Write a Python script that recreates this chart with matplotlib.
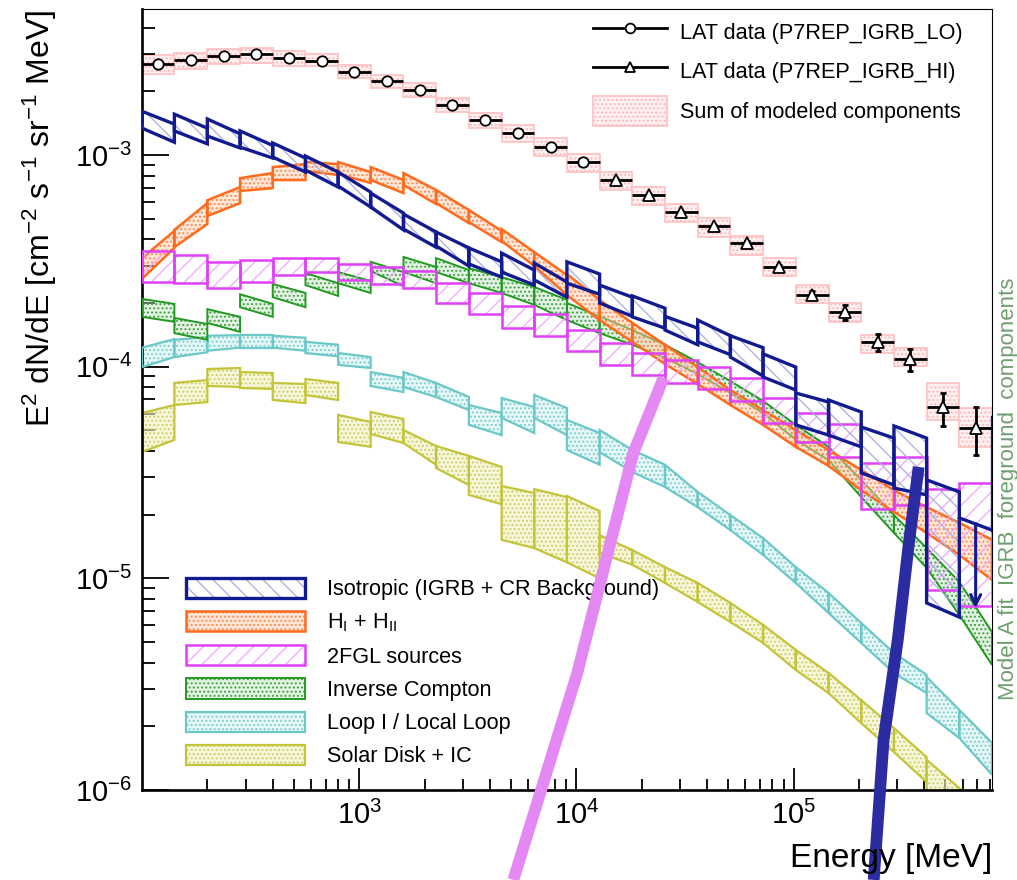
import numpy as np
import matplotlib
matplotlib.use("Agg")
import matplotlib.pyplot as plt
from matplotlib.colors import to_rgba
from matplotlib.patches import Polygon, Patch
from matplotlib.lines import Line2D
from matplotlib.ticker import NullFormatter

plt.rcParams["font.family"] = ["Liberation Sans", "DejaVu Sans"]
plt.rcParams["mathtext.fontset"] = "custom"
plt.rcParams["mathtext.rm"] = "Liberation Sans"
plt.rcParams["mathtext.it"] = "Liberation Sans:italic"
plt.rcParams["mathtext.bf"] = "Liberation Sans:bold"
plt.rcParams["hatch.linewidth"] = 0.9

# energy bin edges [MeV], 26 bins
edges = np.array([100, 141, 200, 283, 400, 566, 800, 1130, 1600, 2260, 3200,
                  4530, 6400, 9050, 12800, 18100, 25600, 36200, 51200, 72400,
                  102400, 145000, 205000, 290000, 410000, 580000, 820000], dtype=float)

# LAT measurements, E^2 dN/dE
lat_lo = [2.68e-3, 2.81e-3, 2.94e-3, 3.00e-3, 2.88e-3, 2.78e-3, 2.47e-3,
          2.24e-3, 2.03e-3, 1.72e-3, 1.46e-3, 1.27e-3, 1.09e-3, 9.24e-4]
lat_hi = [7.62e-4, 6.48e-4, 5.38e-4, 4.62e-4, 3.84e-4, 2.96e-4, 2.18e-4,
          1.81e-4, 1.31e-4, 1.09e-4, 6.45e-5, 5.13e-5]
lat_hi_dn = [1.0e-5, 9e-6, 8e-6, 7e-6, 7e-6, 7e-6, 1.0e-5, 1.4e-5,
             1.2e-5, 1.4e-5, 1.2e-5, 1.3e-5]
lat_hi_up = [1.0e-5, 9e-6, 8e-6, 7e-6, 7e-6, 7e-6, 1.0e-5, 1.4e-5,
             1.2e-5, 1.2e-5, 1.1e-5, 1.3e-5]

# sum of modeled components (box per bin)
sum_top = [2.97e-3, 3.03e-3, 3.17e-3, 3.20e-3, 3.10e-3, 3.00e-3, 2.66e-3,
           2.39e-3, 2.19e-3, 1.86e-3, 1.58e-3, 1.39e-3, 1.20e-3, 1.01e-3,
           8.31e-4, 7.06e-4, 5.87e-4, 5.04e-4, 4.14e-4, 3.26e-4, 2.43e-4,
           2.00e-4, 1.41e-4, 1.23e-4, 8.38e-5, 6.38e-5]
sum_bot = [2.41e-3, 2.55e-3, 2.69e-3, 2.72e-3, 2.63e-3, 2.63e-3, 2.31e-3,
           2.07e-3, 1.88e-3, 1.60e-3, 1.34e-3, 1.15e-3, 9.89e-4, 8.31e-4,
           6.84e-4, 5.81e-4, 4.82e-4, 4.10e-4, 3.37e-4, 2.68e-4, 2.00e-4,
           1.63e-4, 1.16e-4, 1.01e-4, 5.60e-5, 4.18e-5]

# component bands, one row per bin:
# (upper at low edge, upper at high edge, lower at low edge, lower at high edge)
iso_band = [
    (1.61e-3, 1.40e-3, 1.34e-3, 1.15e-3),
    (1.56e-3, 1.34e-3, 1.30e-3, 1.13e-3),
    (1.48e-3, 1.26e-3, 1.23e-3, 1.08e-3),
    (1.30e-3, 1.11e-3, 1.09e-3, 9.68e-4),
    (1.14e-3, 9.68e-4, 9.78e-4, 8.31e-4),
    (9.89e-4, 8.31e-4, 8.49e-4, 7.06e-4),
    (8.31e-4, 6.68e-4, 7.14e-4, 5.68e-4),
    (6.61e-4, 5.32e-4, 5.68e-4, 4.43e-4),
    (5.26e-4, 4.33e-4, 4.47e-4, 3.67e-4),
    (4.33e-4, 3.64e-4, 3.72e-4, 2.99e-4),
    (3.64e-4, 3.13e-4, 3.06e-4, 2.65e-4),
    (3.44e-4, 2.86e-4, 2.80e-4, 2.43e-4),
    (3.09e-4, 2.51e-4, 2.57e-4, 2.13e-4),
    (3.13e-4, 2.74e-4, 2.48e-4, 2.20e-4),
    (2.43e-4, 2.13e-4, 2.00e-4, 1.73e-4),
    (2.16e-4, 1.89e-4, 1.72e-4, 1.52e-4),
    (1.73e-4, 1.52e-4, 1.49e-4, 1.27e-4),
    (1.66e-4, 1.40e-4, 1.31e-4, 1.14e-4),
    (1.40e-4, 1.23e-4, 1.11e-4, 9.04e-5),
    (1.15e-4, 9.96e-5, 8.94e-5, 7.76e-5),
    (7.51e-5, 6.81e-5, 5.31e-5, 4.75e-5),
    (6.96e-5, 6.11e-5, 4.75e-5, 4.18e-5),
    (5.19e-5, 4.60e-5, 3.15e-5, 2.76e-5),
    (5.25e-5, 4.60e-5, 2.67e-5, 2.48e-5),
    (2.92e-5, 2.56e-5, 7.65e-6, 6.56e-6),
]
# last isotropic bin is an upper limit
iso_ul = (1.93e-5, 1.69e-5)
iso_ul_edge_top = 5.78e-5
iso_ul_tip = 7.24e-6

gas_band = [
    (3.26e-4, 4.38e-4, 2.60e-4, 3.64e-4),
    (4.43e-4, 5.93e-4, 3.67e-4, 4.72e-4),
    (6.12e-4, 7.06e-4, 5.15e-4, 5.93e-4),
    (7.78e-4, 8.22e-4, 6.76e-4, 6.98e-4),
    (8.77e-4, 9.06e-4, 7.62e-4, 7.62e-4),
    (9.27e-4, 9.06e-4, 8.40e-4, 8.05e-4),
    (9.27e-4, 8.31e-4, 8.13e-4, 7.38e-4),
    (8.77e-4, 7.62e-4, 7.62e-4, 6.61e-4),
    (8.22e-4, 6.84e-4, 7.22e-4, 5.87e-4),
    (6.84e-4, 5.50e-4, 5.93e-4, 4.77e-4),
    (5.50e-4, 4.38e-4, 4.82e-4, 3.88e-4),
    (4.47e-4, 3.48e-4, 3.93e-4, 2.99e-4),
    (3.48e-4, 2.71e-4, 2.99e-4, 2.18e-4),
    (2.74e-4, 2.07e-4, 2.18e-4, 1.66e-4),
    (2.07e-4, 1.61e-4, 1.66e-4, 1.31e-4),
    (1.61e-4, 1.27e-4, 1.31e-4, 1.03e-4),
    (1.27e-4, 9.96e-5, 1.03e-4, 8.28e-5),
    (9.96e-5, 7.76e-5, 8.28e-5, 6.59e-5),
    (7.76e-5, 6.24e-5, 6.59e-5, 5.31e-5),
    (6.24e-5, 5.02e-5, 5.31e-5, 4.18e-5),
    (5.02e-5, 4.04e-5, 4.18e-5, 3.40e-5),
    (4.04e-5, 3.25e-5, 3.40e-5, 2.61e-5),
    (3.25e-5, 2.61e-5, 2.61e-5, 2.06e-5),
    (2.61e-5, 2.17e-5, 2.06e-5, 1.64e-5),
    (2.17e-5, 1.83e-5, 1.64e-5, 1.29e-5),
    (1.83e-5, 1.52e-5, 1.29e-5, 9.82e-6),
]

fgl_top = [3.53e-4, 3.37e-4, 3.11e-4, 3.19e-4, 3.27e-4, 3.28e-4, 3.06e-4,
           2.95e-4, 2.84e-4, 2.49e-4, 2.22e-4, 1.94e-4, 1.77e-4, 1.49e-4,
           1.29e-4, 1.16e-4, 1.07e-4, 1.00e-4, 8.87e-5, 7.10e-5, 6.07e-5,
           5.36e-5, 3.52e-5, 3.73e-5, 2.64e-5, 2.81e-5]
fgl_bot = [2.52e-4, 2.48e-4, 2.36e-4, 2.52e-4, 2.71e-4, 2.79e-4, 2.57e-4,
           2.46e-4, 2.35e-4, 2.01e-4, 1.77e-4, 1.53e-4, 1.39e-4, 1.18e-4,
           1.02e-4, 9.14e-5, 8.40e-5, 7.85e-5, 6.90e-5, 5.41e-5, 4.43e-5,
           3.76e-5, 2.13e-5, 2.22e-5, 8.81e-6, 7.40e-6]

ic_band = [
    (2.09e-4, 1.98e-4, 1.72e-4, 1.63e-4),
    (1.70e-4, 1.59e-4, 1.44e-4, 1.34e-4),
    (1.87e-4, 1.72e-4, 1.61e-4, 1.46e-4),
    (2.20e-4, 1.98e-4, 1.91e-4, 1.72e-4),
    (2.46e-4, 2.23e-4, 2.13e-4, 1.91e-4),
    (2.77e-4, 2.48e-4, 2.43e-4, 2.16e-4),
    (2.80e-4, 2.54e-4, 2.48e-4, 2.23e-4),
    (3.13e-4, 2.80e-4, 2.83e-4, 2.40e-4),
    (3.30e-4, 2.96e-4, 2.80e-4, 2.48e-4),
    (3.26e-4, 2.86e-4, 2.80e-4, 2.48e-4),
    (2.92e-4, 2.65e-4, 2.48e-4, 2.23e-4),
    (2.65e-4, 2.38e-4, 2.23e-4, 1.96e-4),
    (2.38e-4, 2.07e-4, 1.96e-4, 1.66e-4),
    (2.00e-4, 1.73e-4, 1.66e-4, 1.44e-4),
    (1.73e-4, 1.49e-4, 1.44e-4, 1.27e-4),
    (1.49e-4, 1.27e-4, 1.27e-4, 1.10e-4),
    (1.27e-4, 1.05e-4, 1.10e-4, 9.23e-5),
    (1.05e-4, 8.55e-5, 9.23e-5, 7.51e-5),
    (8.55e-5, 6.89e-5, 7.51e-5, 6.04e-5),
    (6.89e-5, 5.31e-5, 6.04e-5, 4.51e-5),
    (5.31e-5, 4.18e-5, 4.51e-5, 3.62e-5),
    (4.18e-5, 2.92e-5, 3.62e-5, 2.42e-5),
    (2.92e-5, 1.99e-5, 2.42e-5, 1.64e-5),
    (1.99e-5, 1.39e-5, 1.64e-5, 1.12e-5),
    (1.39e-5, 9.62e-6, 1.12e-5, 6.71e-6),
    (9.62e-6, 5.58e-6, 6.71e-6, 3.90e-6),
]

loop_band = [
    (1.23e-4, 1.35e-4, 9.96e-5, 1.11e-4),
    (1.34e-4, 1.38e-4, 1.11e-4, 1.17e-4),
    (1.40e-4, 1.41e-4, 1.19e-4, 1.23e-4),
    (1.41e-4, 1.41e-4, 1.23e-4, 1.23e-4),
    (1.40e-4, 1.37e-4, 1.23e-4, 1.19e-4),
    (1.31e-4, 1.27e-4, 1.16e-4, 1.12e-4),
    (1.16e-4, 1.11e-4, 1.02e-4, 9.86e-5),
    (9.44e-5, 8.85e-5, 8.11e-5, 7.59e-5),
    (9.44e-5, 8.38e-5, 8.02e-5, 7.19e-5),
    (8.38e-5, 7.19e-5, 7.19e-5, 6.24e-5),
    (6.59e-5, 6.04e-5, 5.31e-5, 4.75e-5),
    (7.11e-5, 6.45e-5, 5.73e-5, 4.86e-5),
    (7.35e-5, 6.38e-5, 5.73e-5, 4.75e-5),
    (5.60e-5, 4.86e-5, 4.04e-5, 3.44e-5),
    (5.02e-5, 4.04e-5, 3.95e-5, 3.18e-5),
    (4.04e-5, 3.44e-5, 3.18e-5, 2.70e-5),
    (3.44e-5, 2.56e-5, 2.70e-5, 2.17e-5),
    (2.56e-5, 1.99e-5, 2.17e-5, 1.69e-5),
    (1.99e-5, 1.55e-5, 1.69e-5, 1.29e-5),
    (1.55e-5, 1.13e-5, 1.29e-5, 9.51e-6),
    (1.13e-5, 8.53e-6, 9.51e-6, 6.86e-6),
    (8.53e-6, 6.15e-6, 6.86e-6, 4.95e-6),
    (6.15e-6, 4.44e-6, 4.95e-6, 3.57e-6),
    (4.44e-6, 3.50e-6, 3.57e-6, 2.87e-6),
    (3.42e-6, 2.39e-6, 2.31e-6, 1.76e-6),
    (2.39e-6, 1.67e-6, 1.76e-6, 1.18e-6),
]

solar_band = [
    (6.04e-5, 6.59e-5, 3.95e-5, 4.51e-5),
    (8.38e-5, 8.65e-5, 6.59e-5, 6.81e-5),
    (9.75e-5, 9.86e-5, 8.11e-5, 8.02e-5),
    (9.44e-5, 9.33e-5, 7.93e-5, 7.85e-5),
    (8.38e-5, 8.28e-5, 6.96e-5, 6.73e-5),
    (8.75e-5, 8.38e-5, 7.35e-5, 6.96e-5),
    (5.92e-5, 5.48e-5, 4.41e-5, 4.18e-5),
    (6.11e-5, 5.66e-5, 4.81e-5, 4.36e-5),
    (5.02e-5, 4.22e-5, 4.36e-5, 3.44e-5),
    (4.22e-5, 3.79e-5, 3.32e-5, 2.76e-5),
    (3.79e-5, 3.36e-5, 2.48e-5, 2.24e-5),
    (2.73e-5, 2.53e-5, 1.52e-5, 1.39e-5),
    (2.64e-5, 2.42e-5, 1.39e-5, 1.19e-5),
    (2.45e-5, 2.08e-5, 1.19e-5, 1.00e-5),
    (1.60e-5, 1.36e-5, 1.32e-5, 1.16e-5),
    (1.36e-5, 1.13e-5, 1.16e-5, 9.51e-6),
    (1.13e-5, 9.51e-6, 9.51e-6, 7.73e-6),
    (9.51e-6, 7.65e-6, 7.73e-6, 6.22e-6),
    (7.65e-6, 6.03e-6, 6.22e-6, 4.95e-6),
    (6.03e-6, 4.59e-6, 4.95e-6, 3.69e-6),
    (4.59e-6, 3.57e-6, 3.69e-6, 2.87e-6),
    (3.57e-6, 2.66e-6, 2.87e-6, 2.07e-6),
    (2.66e-6, 1.96e-6, 2.07e-6, 1.51e-6),
    (1.96e-6, 1.43e-6, 1.51e-6, 1.09e-6),
    (1.39e-6, 1.02e-6, 1.00e-6, 7.62e-7),
    (1.02e-6, 7.38e-7, 7.62e-7, 5.50e-7),
]

# hand-drawn marker strokes across the plot (E [MeV], flux)
pink_stroke_e = [5.13e3, 1.01e4, 1.83e4, 2.52e4]
pink_stroke_f = [3.76e-7, 3.57e-6, 3.91e-5, 8.85e-5]
blue_stroke_e = [2.34e5, 2.60e5, 3.02e5, 3.39e5, 3.77e5]
blue_stroke_f = [3.76e-7, 1.73e-6, 5.12e-6, 1.44e-5, 3.36e-5]

legend_labels = ["Isotropic (IGRB + CR Background)",
                 r"H$_{\rm I}$ + H$_{\rm II}$",
                 "2FGL sources",
                 "Inverse Compton",
                 "Loop I / Local Loop",
                 "Solar Disk + IC"]

NAVY = "#111a8e"
ORANGE = "#ff6a1c"
MAGENTA = "#e040f8"
GREEN = "#229a22"
CYAN = "#6cc8c8"
OLIVE = "#c4c43a"
PINK = "#ffc4c4"

centers = np.sqrt(edges[:-1] * edges[1:])

fig = plt.figure(figsize=(10.17, 8.8), dpi=100)
ax = fig.add_axes([0.1396, 0.1023, 0.8358, 0.8875])
ax.set_xscale("log")
ax.set_yscale("log")
ax.set_xlim(100, 8.2e5)
ax.set_ylim(1e-6, 4.9e-3)


def draw_band(rows, color, lw, hatch, hatch_color, face, z):
    for i, (hi_l, hi_r, lo_l, lo_r) in enumerate(rows):
        e0, e1 = edges[i], edges[i + 1]
        verts = [(e0, lo_l), (e1, lo_r), (e1, hi_r), (e0, hi_l)]
        ax.add_patch(Polygon(verts, closed=True, facecolor=face,
                             edgecolor=hatch_color, hatch=hatch, lw=0, zorder=z))
        ax.add_patch(Polygon(verts, closed=True, fill=False, edgecolor=color,
                             lw=lw, zorder=z + 0.1))


def flat(top, bot):
    return [(t, t, b, b) for t, b in zip(top, bot)]


styles = {
    "sum":   dict(color=PINK, lw=1.3, hatch="....", hatch_color="#ffb4b4",
                  face=to_rgba("#ffe4e4", 0.5), z=1),
    "solar": dict(color=OLIVE, lw=1.6, hatch="....", hatch_color="#cdcd6a",
                  face=to_rgba("#f0f0c0", 0.6), z=2),
    "loop":  dict(color=CYAN, lw=1.6, hatch="....", hatch_color="#7ccccc",
                  face=to_rgba("#d6f2f2", 0.6), z=2.5),
    "ic":    dict(color=GREEN, lw=1.4, hatch="....", hatch_color="#3fa03f",
                  face=to_rgba("#bfe3bf", 0.45), z=3),
    "gas":   dict(color=ORANGE, lw=1.8, hatch="....", hatch_color="#ff8a50",
                  face=to_rgba("#ffc9a8", 0.45), z=3.5),
    "fgl":   dict(color=MAGENTA, lw=1.8, hatch="//", hatch_color="#f0a8ff",
                  face="none", z=4),
    "iso":   dict(color=NAVY, lw=2.4, hatch="\\\\", hatch_color="#a8acdc",
                  face="none", z=5),
}

draw_band(flat(sum_top, sum_bot), **styles["sum"])
draw_band(solar_band, **styles["solar"])
draw_band(loop_band, **styles["loop"])
draw_band(ic_band, **styles["ic"])
draw_band(gas_band, **styles["gas"])
draw_band(flat(fgl_top, fgl_bot), **styles["fgl"])
draw_band(iso_band, **styles["iso"])

# isotropic upper limit in the highest bin
ax.plot(edges[-2:], iso_ul, color=NAVY, lw=2.4, zorder=5.1)
ax.plot([edges[-1], edges[-1]], [iso_ul[1], iso_ul_edge_top], color=NAVY,
        lw=2.4, zorder=5.1)
ax.annotate("", xy=(centers[-1], iso_ul_tip), xytext=(centers[-1], np.mean(iso_ul)),
            arrowprops=dict(arrowstyle="->", color=NAVY, lw=2.2,
                            mutation_scale=18, shrinkA=0, shrinkB=0),
            zorder=5.2)

# LAT data points
n_lo = len(lat_lo)
xerr = np.vstack([centers - edges[:-1], edges[1:] - centers])
ax.errorbar(centers[:n_lo], lat_lo, xerr=xerr[:, :n_lo], fmt="none",
            ecolor="k", elinewidth=2, capsize=0, zorder=10)
ax.errorbar(centers[n_lo:], lat_hi, xerr=xerr[:, n_lo:], fmt="none",
            ecolor="k", elinewidth=2, capsize=0, zorder=10)
ax.errorbar(centers[n_lo:], lat_hi, yerr=[lat_hi_dn, lat_hi_up], fmt="none",
            ecolor="k", elinewidth=2, capsize=2.5, capthick=2, zorder=10)
ax.plot(centers[:n_lo], lat_lo, "o", ms=7.5, mfc="white", mec="k", mew=1.3,
        zorder=11)
ax.plot(centers[n_lo:], lat_hi, "^", ms=8, mfc="white", mec="k", mew=1.3,
        zorder=11)

# marker strokes
ax.plot(pink_stroke_e, pink_stroke_f, color="#e488f4", lw=8.5,
        solid_capstyle="butt", clip_on=False, zorder=20)
ax.plot(blue_stroke_e, blue_stroke_f, color="#2c2ca2", lw=8.5,
        solid_capstyle="butt", clip_on=False, zorder=20)

# axes styling
ax.set_xticks([1e3, 1e4, 1e5])
ax.set_yticks([1e-6, 1e-5, 1e-4, 1e-3])
ax.xaxis.set_minor_formatter(NullFormatter())
ax.yaxis.set_minor_formatter(NullFormatter())
ax.tick_params(axis="y", which="major", direction="in", length=19.5,
               width=1.3, pad=7, labelsize=21)
ax.tick_params(axis="y", which="minor", direction="in", length=9.5, width=1.3)
ax.tick_params(axis="x", which="major", direction="in", length=16,
               width=1.3, pad=8, labelsize=21)
ax.tick_params(axis="x", which="minor", direction="in", length=8, width=1.3)
for side in ("left", "bottom"):
    ax.spines[side].set_linewidth(1.9)
for side in ("top", "right"):
    ax.spines[side].set_linewidth(0.8)

fig.text(40 / 1017, 1 - 10 / 880,
         r"E$^{2}$ dN/dE [cm$^{-2}$ s$^{-1}$ sr$^{-1}$ MeV]",
         rotation=90, ha="center", va="top", fontsize=23)
fig.text(992 / 1017, 1 - 858 / 880, "Energy [MeV]", ha="right", va="center",
         fontsize=24)

# legends
h_lo = Line2D([], [], color="k", lw=2, marker="o", ms=7, mfc="white",
              mec="k", mew=1.3)
h_hi = Line2D([], [], color="k", lw=2, marker="^", ms=7, mfc="white",
              mec="k", mew=1.3)
h_sum = (Patch(facecolor=styles["sum"]["face"], edgecolor="#ffb4b4",
               hatch="....", lw=0),
         Patch(facecolor="none", edgecolor=PINK, lw=1.3))
leg1 = ax.legend([h_lo, h_hi, h_sum],
                 ["LAT data (P7REP_IGRB_LO)", "LAT data (P7REP_IGRB_HI)",
                  "Sum of modeled components"],
                 loc="upper left", bbox_to_anchor=(0.5306, 0.99),
                 frameon=False, fontsize=15.6, handlelength=3.4,
                 handleheight=1.75, handletextpad=0.6, labelspacing=0.45,
                 borderpad=0, borderaxespad=0)
ax.add_artist(leg1)

comp_handles = []
for key in ("iso", "gas", "fgl", "ic", "loop", "solar"):
    s = styles[key]
    comp_handles.append((Patch(facecolor=s["face"], edgecolor=s["hatch_color"],
                               hatch=s["hatch"], lw=0),
                         Patch(facecolor="none", edgecolor=s["color"],
                               lw=s["lw"])))
ax.legend(comp_handles, legend_labels, loc="upper left",
          bbox_to_anchor=(0.0518, 0.2714), frameon=False, fontsize=15.6,
          handlelength=5.5, handleheight=1.05, handletextpad=1.0,
          labelspacing=0.5, borderpad=0, borderaxespad=0)

# margin note along the right edge of the page
fig.text(998 / 1017, 1 - 700 / 880, "Model A fit  IGRB  foreground  components",
         rotation=90, ha="left", va="bottom", fontsize=16, color="#6f9f6f")

fig.savefig("out.png", dpi=100)
